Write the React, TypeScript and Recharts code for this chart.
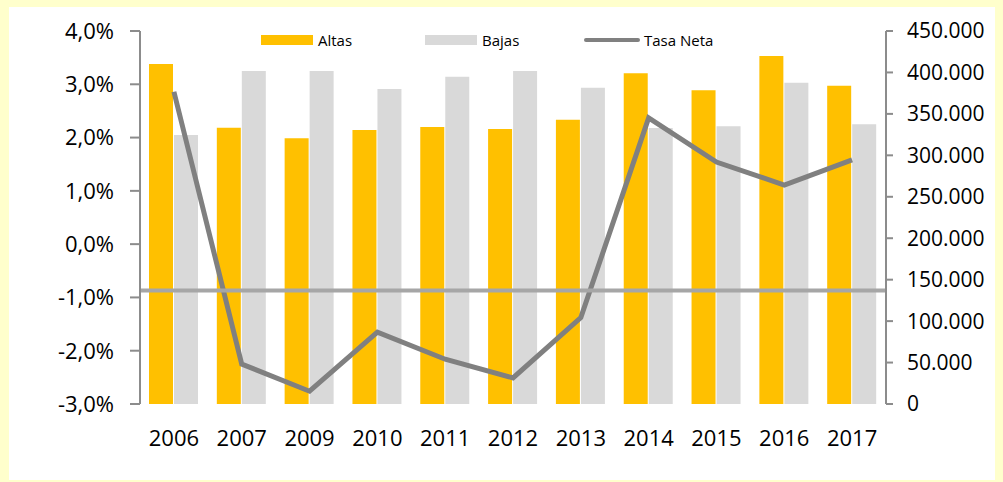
import React from 'react';
import { ComposedChart, Bar, Line, XAxis, YAxis, Legend, ReferenceLine } from 'recharts';

const years = ['2006', '2007', '2009', '2010', '2011', '2012', '2013', '2014', '2015', '2016', '2017'];
const altas = [410200, 333300, 320500, 330600, 334200, 331800, 343000, 399000, 378500, 419800, 384000];
const bajas = [324500, 401700, 401700, 380000, 394900, 401700, 381600, 333000, 335000, 387600, 337400];
const tasaNeta = [2.86, -2.25, -2.76, -1.65, -2.16, -2.51, -1.38, 2.37, 1.54, 1.11, 1.58];
const leftTicks = [-3, -2, -1, 0, 1, 2, 3, 4];
const rightTicks = [0, 50000, 100000, 150000, 200000, 250000, 300000, 350000, 400000, 450000];
const referenceLevel = -0.87;

const data = years.map((year, i) => ({
  year,
  Altas: altas[i],
  Bajas: bajas[i],
  'Tasa Neta': tasaNeta[i],
}));

const FONT = '"Open Sans", "Liberation Sans", sans-serif';
const YELLOW = '#FFFFCC';
const ALTAS = '#FFC000';
const BAJAS = '#D9D9D9';
const TASA = '#808080';
const AXIS = '#8C8C8C';

const fmtPct = (v: number) => `${v.toFixed(1).replace('.', ',')}%`;
const fmtThousands = (v: number) => String(v).replace(/\B(?=(\d{3})+(?!\d))/g, '.');

const itemWidths = [164, 159, 160];

const renderLegend = (props: any) => {
  const payload = props.payload || [];
  return (
    <div style={{ display: 'flex', alignItems: 'center', height: 20, fontFamily: FONT, fontSize: 15, color: '#000' }}>
      {payload.map((entry: any, i: number) => {
        const isLine = entry.type === 'line';
        return (
          <div key={entry.value} style={{ display: 'flex', alignItems: 'center', width: itemWidths[i] }}>
            {isLine ? (
              <div style={{ width: 56, height: 4, borderRadius: 2, background: entry.color, marginRight: 4 }} />
            ) : (
              <div style={{ width: 52, height: 10, background: entry.color, marginRight: 5 }} />
            )}
            <span style={{ lineHeight: '20px', whiteSpace: 'nowrap' }}>{entry.value}</span>
          </div>
        );
      })}
    </div>
  );
};

export default function App() {
  return (
    <div style={{ position: 'fixed', left: 0, top: 0, width: 1003, height: 482, background: YELLOW, overflow: 'hidden' }}>
      <div style={{ position: 'absolute', left: 9, top: 7, width: 986, height: 473, background: '#FFFFFF' }} />
      <div style={{ position: 'absolute', left: 0, top: 0 }}>
        <ComposedChart
          width={1003}
          height={482}
          data={data}
          margin={{ top: 31, right: 0, bottom: 0, left: 0 }}
          barCategoryGap={9}
          barGap={1}
        >
          <XAxis
            dataKey="year"
            axisLine={false}
            tickLine={false}
            tickSize={0}
            tickMargin={26}
            height={78}
            interval={0}
            tick={{ fontFamily: FONT, fontSize: 22, fill: '#000' }}
          />
          <YAxis
            yAxisId="left"
            orientation="left"
            width={140}
            domain={[-3, 4]}
            ticks={leftTicks}
            tickFormatter={fmtPct}
            axisLine={{ stroke: AXIS, strokeWidth: 2 }}
            tickLine={{ stroke: AXIS, strokeWidth: 2 }}
            tickSize={10}
            tickMargin={16}
            interval={0}
            tick={{ fontFamily: FONT, fontSize: 22, fill: '#000' }}
          />
          <YAxis
            yAxisId="right"
            orientation="right"
            width={117}
            domain={[0, 450000]}
            ticks={rightTicks}
            tickFormatter={fmtThousands}
            axisLine={{ stroke: AXIS, strokeWidth: 2 }}
            tickLine={{ stroke: AXIS, strokeWidth: 2 }}
            tickSize={7}
            tickMargin={14}
            interval={0}
            tick={{ fontFamily: FONT, fontSize: 21, fill: '#000' }}
          />
          <Legend
            layout="horizontal"
            verticalAlign="middle"
            align="center"
            content={renderLegend}
            wrapperStyle={{ top: 30, left: 261, width: 520, height: 20 }}
          />
          <Bar yAxisId="right" dataKey="Altas" fill={ALTAS} isAnimationActive={false} />
          <Bar yAxisId="right" dataKey="Bajas" fill={BAJAS} isAnimationActive={false} />
          <Line
            yAxisId="left"
            type="linear"
            dataKey="Tasa Neta"
            stroke={TASA}
            strokeWidth={5}
            dot={false}
            activeDot={false}
            legendType="line"
            isAnimationActive={false}
          />
          <ReferenceLine yAxisId="left" y={referenceLevel} stroke="#A6A6A6" strokeWidth={4} />
        </ComposedChart>
      </div>
    </div>
  );
}
